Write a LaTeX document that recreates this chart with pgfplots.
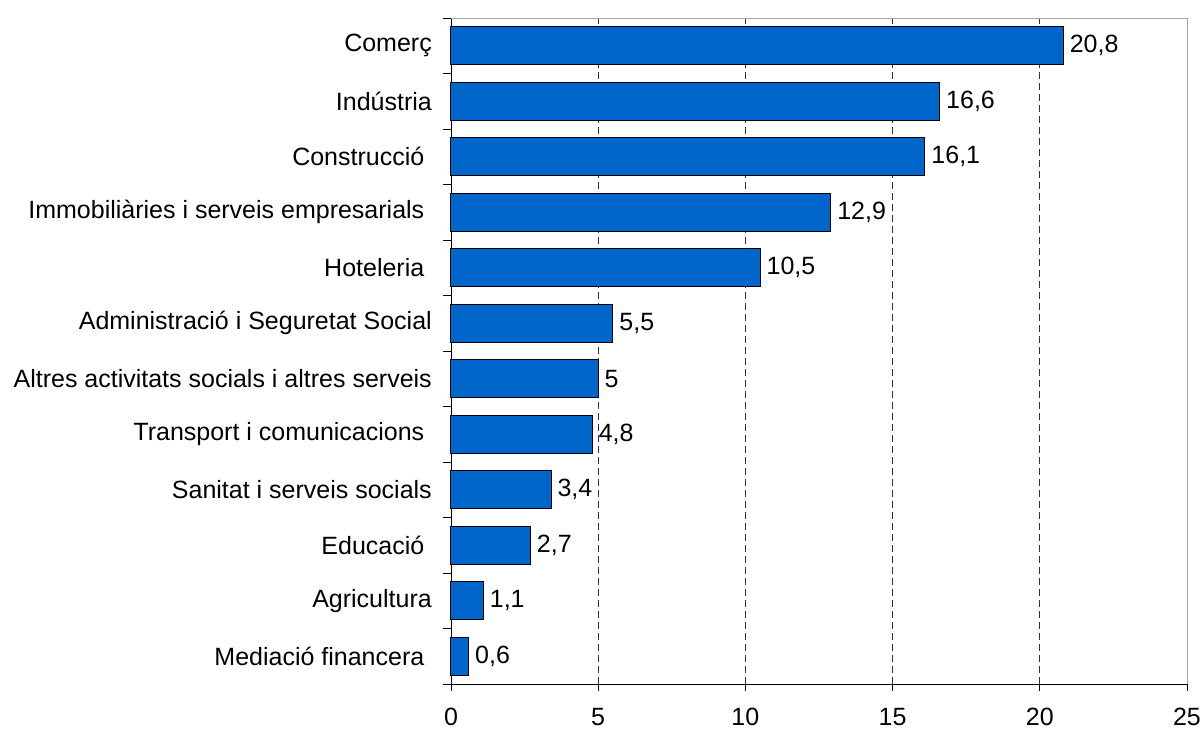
\documentclass[border=0pt]{standalone}
\usepackage{pgfplots}
\pgfplotsset{compat=1.18}
\usepackage{fontspec}
\setmainfont{Liberation Sans}
\definecolor{barblue}{RGB}{0,102,204}
\newcommand{\tsp}{\hspace*{7.5pt}}
\begin{document}
\fontsize{25}{30}\selectfont
\begin{tikzpicture}
\useasboundingbox (-451pt,-45pt) rectangle (752pt,684pt);
\begin{axis}[
  at={(0,0)}, anchor=south west,
  scale only axis, width=736pt, height=666pt,
  xmin=0, xmax=25, ymin=-0.5, ymax=11.5,
  xbar, bar width=0.685,
  axis x line*=bottom, axis y line*=left,
  axis line style={black, line width=0.9pt, -},
  tick align=outside,
  xtick={0,5,...,25},
  major tick length=7pt,
  minor tick length=8pt,
  every tick/.style={black, line width=0.9pt},
  ytick={0,...,11},
  major y tick style={draw=none},
  minor ytick={-0.5,0.5,...,11.5},
  yticklabels={Mediació financera\tsp, Agricultura, Educació\tsp, Sanitat i serveis socials, Transport i comunicacions\tsp, Altres activitats socials i altres serveis, Administració i Seguretat Social, Hoteleria\tsp, Immobiliàries i serveis empresarials\tsp, Construcció\tsp, Indústria, Comerç},
  ticklabel style={font=\fontsize{25}{30}\selectfont},
  yticklabel style={anchor=east, inner sep=0pt, xshift=-12pt},
  xticklabel style={anchor=center, yshift=-26pt},
  /pgf/number format/assume math mode=true,
  /pgf/number format/use comma,
  extra x ticks={5,10,15,20},
  extra x tick labels={},
  extra x tick style={grid=major, major grid style={black!80, line width=0.8pt, dash pattern=on 7pt off 4pt}},
  nodes near coords,
  nodes near coords style={anchor=west, font=\fontsize{25}{30}\selectfont, inner sep=0pt, xshift=6pt, /pgf/number format/use comma},
  clip=false,
]
\addplot[draw=black, line width=1pt, fill=barblue] coordinates {
(0.6,0) (1.1,1) (2.7,2) (3.4,3) (4.8,4) (5,5) (5.5,6) (10.5,7) (12.9,8) (16.1,9) (16.6,10) (20.8,11)
};
\draw[gray!70, line width=0.9pt] (rel axis cs:0,1) -- (rel axis cs:1,1) -- (rel axis cs:1,0);
\end{axis}
\end{tikzpicture}
\end{document}
